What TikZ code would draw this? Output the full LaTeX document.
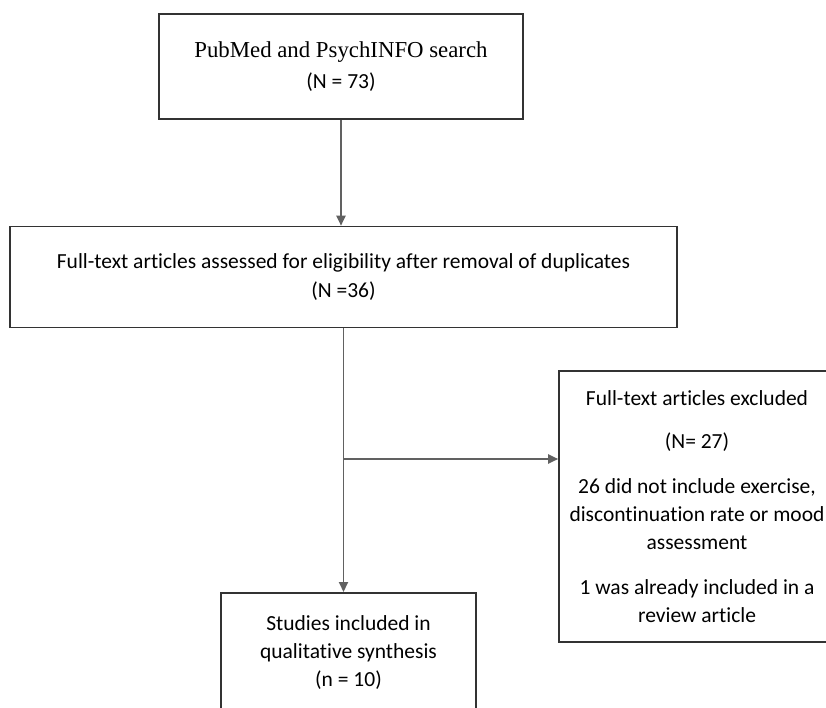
\documentclass[tikz,border=0pt]{standalone}
\usepackage{fontspec}
\setmainfont{Liberation Serif}
\newfontfamily\calibri[Ligatures={NoCommon}]{Carlito}
\usetikzlibrary{positioning,arrows.meta}

\begin{document}
\begin{tikzpicture}[x=1pt, y=-1pt,
    box/.style={draw=black!80, line width=1.6pt, fill=white, align=center},
    flowtext/.style={font=\fontsize{21.5}{28}\calibri},
    flow/.style={draw=black!62, line width=1.9pt, -{Triangle[length=10pt, width=9pt]}}
  ]
    % Page frame, the boxes at the right and bottom run off it.
    \useasboundingbox (0,0) rectangle (826,707);
    \clip (0,0) rectangle (826,707);

    % Search and screening.
    \node[box, flowtext, minimum width=364pt, minimum height=105pt] at (341,66.5) (search)
      {{\fontsize{22.8}{28}\selectfont\rmfamily PubMed and PsychINFO search}\\[3pt](N = 73)};
    \node[box, flowtext, minimum width=667pt, minimum height=101pt] at (343.5,277) (assessed)
      {Full-text articles assessed for eligibility after removal of duplicates\\[1pt](N =36)};

    % Exclusions and included studies.
    \node[box, flowtext, minimum width=276pt, minimum height=271pt] at (697,506.5) (excluded)
      {Full-text articles excluded\\[15pt](N= 27)\\[17pt]26 did not include exercise,\\discontinuation rate or mood\\assessment\\[17pt]1 was already included in a\\review article};
    \node[box, anchor=north, minimum width=255pt, minimum height=150pt,
      label={[flowtext, align=center, anchor=north, yshift=-20pt]north:Studies included in\\qualitative synthesis\\(n = 10)}] at (348.5,592) (included) {};

    % Arrows.
    \coordinate (split) at (assessed.south |- 0,459);
    \draw[flow] (search.south) -- (search.south |- assessed.north);
    \draw[flow] (assessed.south) -- (assessed.south |- included.north);
    \draw[flow] (split) -- (split -| excluded.west);
\end{tikzpicture}
\end{document}
